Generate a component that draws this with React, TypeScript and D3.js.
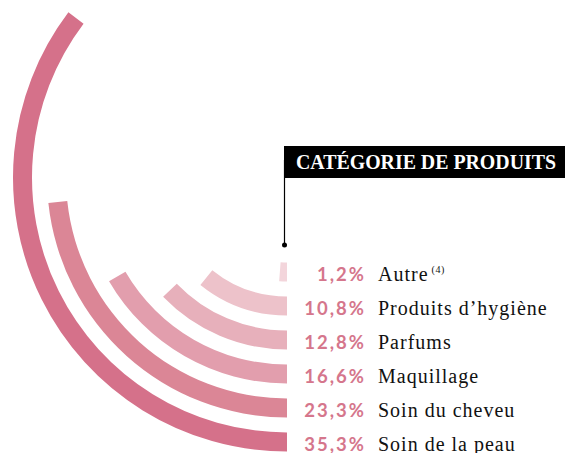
import React, { useEffect, useRef } from "react";
import * as d3 from "d3";

// categories from outer ring to inner ring
const categories = [
  "Soin de la peau",
  "Soin du cheveu",
  "Maquillage",
  "Parfums",
  "Produits d\u2019hygiène",
  "Autre",
];
const shares = [35.3, 23.3, 16.6, 12.8, 10.8, 1.2];
const ringColors = ["#d5718a", "#db8696", "#e29ead", "#e7b0bb", "#edc2ca", "#f3d5db"];
const notes = ["", "", "", "", "", "(4)"];
const title = "CATÉGORIE DE PRODUITS";

const W = 565;
const H = 453;

export default function App() {
  const ref = useRef<SVGSVGElement | null>(null);

  useEffect(() => {
    const svg = d3.select(ref.current);
    svg.selectAll("*").remove();

    const cx = 287;
    const cy = 177.5;
    const band = 19;

    const r = d3.scalePoint<string>().domain(categories).range([264.5, 94.5]);
    const angle = d3.scaleLinear().domain([0, 100]).range([0, 2 * Math.PI]);
    const frFormat = d3.formatLocale({
      decimal: ",",
      thousands: " ",
      grouping: [3],
      currency: ["", " €"],
    }).format(".1f");

    const arc = d3
      .arc<any>()
      .innerRadius((d) => r(d.cat)! - band / 2)
      .outerRadius((d) => r(d.cat)! + band / 2)
      .startAngle(Math.PI)
      .endAngle((d) => Math.PI + angle(d.v));

    const data = categories.map((cat, i) => ({ cat, v: shares[i], i }));

    const g = svg.append("g").attr("transform", `translate(${cx},${cy})`);
    g.selectAll("path")
      .data(data)
      .enter()
      .append("path")
      .attr("d", arc)
      .attr("fill", (d) => ringColors[d.i]);

    // labels
    const rows = svg
      .selectAll("g.row")
      .data(data)
      .enter()
      .append("g")
      .attr("class", "row")
      .attr("transform", (d) => `translate(0,${cy + r(d.cat)! + 9})`);

    rows
      .append("text")
      .attr("x", 366)
      .attr("text-anchor", "end")
      .attr("font-family", "Lato, 'Noto Sans', sans-serif")
      .attr("font-weight", 700)
      .attr("font-size", 18.5)
      .attr("letter-spacing", 2)
      .attr("fill", "#d5768c")
      .text((d) => frFormat(d.v) + "%");

    const lab = rows
      .append("text")
      .attr("x", 378)
      .attr("font-family", "'Liberation Serif', 'DejaVu Serif', serif")
      .attr("font-size", 20)
      .attr("letter-spacing", 1)
      .attr("fill", "#111")
      .text((d) => d.cat);
    lab
      .filter((d) => notes[d.i] !== "")
      .append("tspan")
      .attr("dx", 3)
      .attr("dy", -8)
      .attr("font-size", 10)
      .attr("letter-spacing", 0.5)
      .text((d) => notes[d.i]);

    // title box and leader
    svg
      .append("line")
      .attr("x1", 284.5)
      .attr("x2", 284.5)
      .attr("y1", 160)
      .attr("y2", 245)
      .attr("stroke", "#000")
      .attr("stroke-width", 1.2);
    svg.append("circle").attr("cx", 284.5).attr("cy", 245).attr("r", 2.5).attr("fill", "#000");
    svg
      .append("rect")
      .attr("x", 284)
      .attr("y", 146)
      .attr("width", W - 284)
      .attr("height", 32)
      .attr("fill", "#000");
    svg
      .append("text")
      .attr("x", 296)
      .attr("y", 169)
      .attr("font-family", "'Liberation Serif', serif")
      .attr("font-weight", 700)
      .attr("font-size", 21)
      .attr("fill", "#fff")
      .attr("textLength", 260)
      .attr("lengthAdjust", "spacingAndGlyphs")
      .text(title);
  }, []);

  return (
    <div style={{ position: "absolute", left: 0, top: 0 }}>
      <svg ref={ref} width={W} height={H} style={{ display: "block", background: "#fff" }} />
    </div>
  );
}
